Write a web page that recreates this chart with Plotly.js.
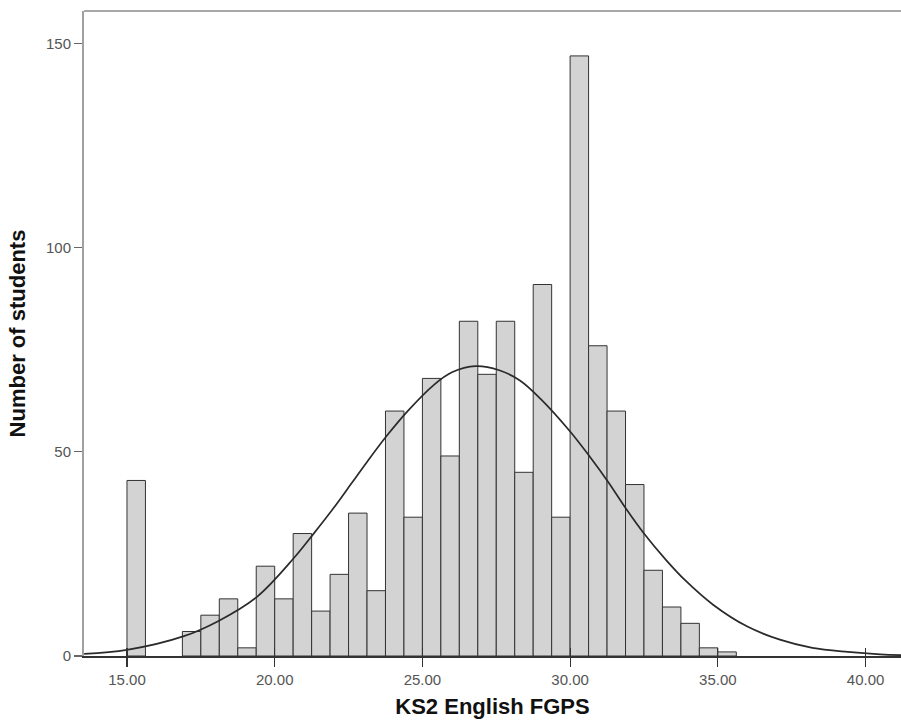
<!DOCTYPE html>
<html>
<head>
<meta charset="utf-8">
<script src="https://cdn.plot.ly/plotly-3.0.1.min.js"></script>
<style>html,body{margin:0;padding:0;background:#fff;}#chart{width:901px;height:728px;}</style>
</head>
<body>
<div id="chart"></div>
<script>
// Histogram bins (bin centres, width 0.625) and counts
const binCenters = [15.3125, 17.1875, 17.8125, 18.4375, 19.0625, 19.6875, 20.3125, 20.9375,
  21.5625, 22.1875, 22.8125, 23.4375, 24.0625, 24.6875, 25.3125, 25.9375, 26.5625, 27.1875,
  27.8125, 28.4375, 29.0625, 29.6875, 30.3125, 30.9375, 31.5625, 32.1875, 32.8125, 33.4375,
  34.0625, 34.6875, 35.3125];
const counts = [43, 6, 10, 14, 2, 22, 14, 30, 11, 20, 35, 16, 60, 34, 68, 49, 82, 69, 82, 45,
  91, 34, 147, 76, 60, 42, 21, 12, 8, 2, 1];
const binWidth = 0.625;

// Fitted normal curve
const curveX = [13.55, 15.0, 16.9, 18.1, 19.4, 20.65, 21.3, 22.0, 22.6, 23.1, 23.8, 24.5,
  25.4, 26.0, 26.8, 27.6, 28.3, 29.0, 30.0, 30.7, 31.3, 31.9, 32.5, 33.25, 33.9, 34.85, 36.0,
  37.1, 38.2, 39.4, 40.5, 41.2];
const curveY = [0.5, 1.5, 4.8, 8.6, 14.5, 24, 29.8, 36.3, 42.3, 47.3, 54, 60,
  66.5, 69.5, 71, 70, 67.5, 63, 55, 48.5, 42.5, 36, 30, 23.5, 18.5, 12.5, 7.2,
  4, 2, 1, 0.4, 0.2];

const xTickVals = [15, 20, 25, 30, 35, 40];
const xTickText = ['15.00', '20.00', '25.00', '30.00', '35.00', '40.00'];
const yTickVals = [0, 50, 100, 150];

const bars = {
  type: 'bar', x: binCenters, y: counts, width: binWidth,
  marker: {color: '#d3d3d3', line: {color: '#333333', width: 1}},
  hoverinfo: 'x+y', showlegend: false
};
const curve = {
  type: 'scatter', mode: 'lines', x: curveX, y: curveY,
  line: {color: '#2a2a2a', width: 1.7, shape: 'spline', smoothing: 1},
  showlegend: false
};

const tickFont = {family: 'Liberation Sans, Arial, sans-serif', size: 15, color: '#555555'};
const titleFont = {family: 'Liberation Sans, Arial, sans-serif', size: 22, color: '#111111', weight: 'bold'};

const layout = {
  width: 901, height: 728,
  margin: {l: 84, r: 0, t: 11, b: 72},
  paper_bgcolor: '#ffffff', plot_bgcolor: '#ffffff',
  bargap: 0,
  showlegend: false,
  xaxis: {
    range: [13.545, 41.2], tickvals: xTickVals, ticktext: xTickText,
    ticks: 'outside', ticklen: 9, tickcolor: '#333333', tickwidth: 1.2,
    showgrid: false, zeroline: false,
    showline: true, linecolor: '#333333', linewidth: 1.5,
    tickfont: tickFont,
    title: {text: 'KS2 English FGPS', font: titleFont, standoff: 12}
  },
  xaxis2: {
    overlaying: 'x', matches: 'x', range: [13.545, 41.2], tickvals: xTickVals,
    ticks: 'inside', ticklen: 8, tickcolor: '#333333', tickwidth: 1.2,
    showticklabels: false, showgrid: false, zeroline: false, showline: false
  },
  yaxis: {
    range: [0, 158], tickvals: yTickVals,
    ticks: 'outside', ticklen: 8, tickcolor: '#666666', tickwidth: 1.2,
    showgrid: false, zeroline: false,
    showline: true, linecolor: '#a0a0a0', linewidth: 2,
    tickfont: tickFont,
    title: {text: 'Number of students', font: titleFont, standoff: 14}
  },
  shapes: [
    {type: 'line', xref: 'paper', yref: 'paper', x0: 0, x1: 1, y0: 1, y1: 1,
     line: {color: '#a8a8a8', width: 2}}
  ]
};

const tickHelper = {type: 'scatter', mode: 'markers', x: [], y: [], xaxis: 'x2', yaxis: 'y', showlegend: false, hoverinfo: 'skip'};

Plotly.newPlot('chart', [bars, curve, tickHelper], layout, {displayModeBar: false, staticPlot: true});
</script>
</body>
</html>
